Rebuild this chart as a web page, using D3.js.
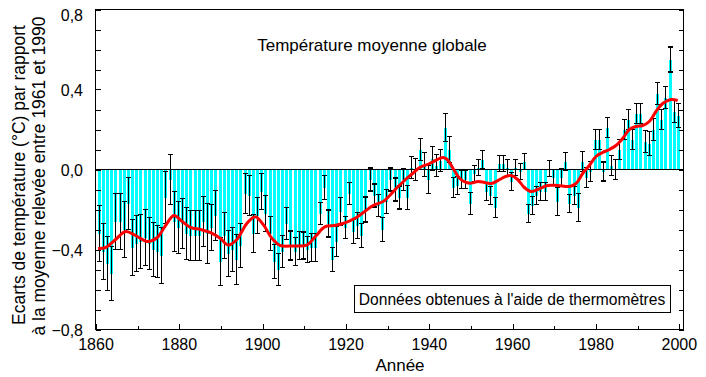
<!DOCTYPE html>
<html>
<head>
<meta charset="utf-8">
<script src="https://cdn.jsdelivr.net/npm/d3@7"></script>
<style>
  body { margin: 0; background: #fff; }
  svg { font-family: "Liberation Sans", Arial, sans-serif; }
</style>
</head>
<body>
<svg id="chart" width="706" height="377"></svg>
<script>
// annual anomalies (°C, vs 1961-1990), 1861..2000
const firstYear = 1861;
const anomalies = [
  -0.32, -0.41, -0.47, -0.52, -0.26, -0.26, -0.30, -0.17, -0.39, -0.37,
  -0.36, -0.34, -0.37, -0.40, -0.41, -0.43, -0.14, -0.05, -0.26, -0.29,
  -0.27, -0.32, -0.33, -0.33, -0.33, -0.26, -0.32, -0.29, -0.23, -0.46,
  -0.33, -0.42, -0.40, -0.45, -0.38, -0.12, -0.13, -0.32, -0.23, -0.11,
  -0.22, -0.32, -0.46, -0.50, -0.41, -0.27, -0.38, -0.41, -0.38, -0.38,
  -0.40, -0.39, -0.39, -0.22, -0.09, -0.27, -0.45, -0.36, -0.21, -0.29,
  -0.12, -0.31, -0.28, -0.33, -0.20, -0.05, -0.13, -0.18, -0.30, -0.16,
  -0.05, -0.10, -0.14, -0.05, -0.14, 0.01, 0.00, 0.10, 0.025, -0.05,
  0.055, 0.02, 0.045, 0.21, 0.10, -0.09, -0.08, -0.05, -0.05, -0.17,
  -0.02, 0.01, 0.05, -0.11, -0.13, -0.19, 0.03, 0.03, 0.01, -0.06,
  0.01, -0.01, 0.04, -0.22, -0.18, -0.13, -0.11, -0.11, 0.005, -0.04,
  -0.16, -0.04, 0.04, -0.17, -0.13, -0.19, 0.04, -0.04, -0.01, 0.15,
  0.15, -0.01, 0.21, 0.02, 0.00, 0.10, 0.20, 0.25, 0.15, 0.28,
  0.28, 0.14, 0.13, 0.20, 0.38, 0.25, 0.36, 0.55, 0.29, 0.27
];
// half-width of the error bars (°C)
const uncertainty = [
  0.14, 0.14, 0.135, 0.135, 0.14, 0.14, 0.14, 0.13, 0.14, 0.14,
  0.135, 0.14, 0.13, 0.135, 0.13, 0.14, 0.13, 0.125, 0.15, 0.13,
  0.125, 0.13, 0.125, 0.125, 0.125, 0.125, 0.15, 0.115, 0.125, 0.12,
  0.115, 0.115, 0.11, 0.125, 0.11, 0.10, 0.10, 0.095, 0.09, 0.09,
  0.09, 0.085, 0.085, 0.08, 0.08, 0.08, 0.072, 0.07, 0.07, 0.068,
  0.065, 0.07, 0.07, 0.056, 0.06, 0.067, 0.06, 0.075, 0.07, 0.055,
  0.055, 0.06, 0.065, 0.06, 0.062, 0.057, 0.057, 0.056, 0.059, 0.06,
  0.057, 0.058, 0.058, 0.056, 0.06, 0.056, 0.056, 0.056, 0.06, 0.07,
  0.06, 0.055, 0.055, 0.07, 0.065, 0.05, 0.045, 0.045, 0.045, 0.055,
  0.04, 0.04, 0.045, 0.045, 0.045, 0.05, 0.04, 0.04, 0.04, 0.045,
  0.04, 0.04, 0.04, 0.045, 0.045, 0.045, 0.045, 0.045, 0.04, 0.04,
  0.07, 0.045, 0.045, 0.045, 0.045, 0.07, 0.05, 0.05, 0.05, 0.05,
  0.05, 0.048, 0.05, 0.05, 0.05, 0.05, 0.05, 0.05, 0.05, 0.05,
  0.05, 0.055, 0.06, 0.055, 0.055, 0.05, 0.055, 0.063, 0.055, 0.06
];
// smoothed curve
const smoothYears = [
  1860.5, 1862.3, 1864.7, 1867.1, 1869.5, 1872.3, 1874.7, 1876.7, 1878.7, 1880.7,
  1882.7, 1885.1, 1887.5, 1889.8, 1891.8, 1893.8, 1896.2, 1898.2, 1900.2, 1902.2,
  1904.2, 1907.4, 1910.6, 1912.6, 1915, 1917, 1919.3, 1922.5, 1924.5, 1926.5,
  1928.9, 1930.5, 1932.1, 1934.3, 1936, 1937.7, 1940.1, 1942.5, 1943.3, 1944.3,
  1945.7, 1947.3, 1948.9, 1950.1, 1951.7, 1953.3, 1954.9, 1956.9, 1958.3, 1959.6,
  1961.2, 1962.8, 1964.4, 1966, 1968.4, 1970.8, 1973.6, 1975.2, 1976.8, 1978.4,
  1980, 1981.6, 1983.2, 1984.8, 1986.4, 1988, 1989.6, 1991.2, 1992.8, 1994.4,
  1996, 1998, 1999.6
];
const smoothValues = [
  -0.395, -0.39, -0.35, -0.31, -0.33, -0.36, -0.34, -0.28, -0.23, -0.26,
  -0.29, -0.30, -0.316, -0.344, -0.378, -0.35, -0.27, -0.236, -0.277, -0.344,
  -0.38, -0.382, -0.378, -0.336, -0.286, -0.28, -0.27, -0.24, -0.21, -0.18,
  -0.16, -0.13, -0.094, -0.05, -0.02, 0.01, 0.03, 0.056, 0.06, 0.05,
  0.005, -0.045, -0.065, -0.068, -0.06, -0.065, -0.07, -0.05, -0.035, -0.03,
  -0.05, -0.09, -0.11, -0.10, -0.08, -0.08, -0.085, -0.07, -0.02, 0.02,
  0.065, 0.085, 0.10, 0.12, 0.155, 0.20, 0.215, 0.22, 0.24, 0.29,
  0.33, 0.35, 0.345
];
const xTickLabels = [1860, 1880, 1900, 1920, 1940, 1960, 1980, 2000];
const yTickLabels = [-0.8, -0.4, 0, 0.4, 0.8];

const svg = d3.select('#chart');
const plotLeft = 95.5, plotRight = 683.5, plotTop = 9.5, plotBottom = 329.5;

const x = d3.scaleLinear().domain([1860, 2001]).range([96, 683.5]);
const y = d3.scaleLinear().domain([-0.8, 0.8]).range([plotBottom, plotTop]);

const data = anomalies.map((v, i) => ({ year: firstYear + i, value: v, err: uncertainty[i] }));
// bars sit a little left of the year tick in the original
const cx = d => Math.round(x(d.year) - 1.5) + 0.5;

// bars
svg.append('g').selectAll('rect')
  .data(data)
  .join('rect')
  .attr('x', d => cx(d) - 1.5)
  .attr('width', 3)
  .attr('y', d => Math.min(y(d.value), y(0)))
  .attr('height', d => Math.abs(y(d.value) - y(0)))
  .attr('fill', '#00ffff')
  .attr('shape-rendering', 'crispEdges');

// error bars
const eb = svg.append('g').attr('stroke', '#000').attr('stroke-width', 1).attr('shape-rendering', 'crispEdges');
eb.selectAll('line.v')
  .data(data)
  .join('line')
  .attr('class', 'v')
  .attr('x1', cx).attr('x2', cx)
  .attr('y1', d => y(d.value + d.err))
  .attr('y2', d => y(d.value - d.err));
eb.selectAll('line.top')
  .data(data)
  .join('line')
  .attr('class', 'top')
  .attr('x1', d => cx(d) - 2.5).attr('x2', d => cx(d) + 2.5)
  .attr('y1', d => y(d.value + d.err)).attr('y2', d => y(d.value + d.err))
  .attr('stroke-width', 1.5);
eb.selectAll('line.bot')
  .data(data)
  .join('line')
  .attr('class', 'bot')
  .attr('x1', d => cx(d) - 2.5).attr('x2', d => cx(d) + 2.5)
  .attr('y1', d => y(d.value - d.err)).attr('y2', d => y(d.value - d.err))
  .attr('stroke-width', 1.5);

// zero line
svg.append('line')
  .attr('x1', plotLeft).attr('x2', plotRight)
  .attr('y1', y(0)).attr('y2', y(0))
  .attr('stroke', '#000').attr('shape-rendering', 'crispEdges');

// smoothed curve
const smooth = smoothYears.map((yr, i) => [yr, smoothValues[i]]);
svg.append('path')
  .datum(smooth)
  .attr('fill', 'none')
  .attr('stroke', '#ff0000')
  .attr('stroke-width', 3)
  .attr('d', d3.line().x(d => x(d[0])).y(d => y(d[1])).curve(d3.curveCatmullRom));

// frame
svg.append('rect')
  .attr('x', plotLeft).attr('y', plotTop)
  .attr('width', plotRight - plotLeft).attr('height', plotBottom - plotTop)
  .attr('fill', 'none').attr('stroke', '#000').attr('shape-rendering', 'crispEdges');

// ticks
const ticks = svg.append('g').attr('stroke', '#000').attr('shape-rendering', 'crispEdges');
d3.range(-8, 9).forEach(k => {
  const yy = Math.round(y(k / 10)) + 0.5;
  ticks.append('line').attr('x1', plotLeft).attr('x2', plotLeft + 5).attr('y1', yy).attr('y2', yy);
  ticks.append('line').attr('x1', plotRight - 5).attr('x2', plotRight).attr('y1', yy).attr('y2', yy);
});
d3.range(1860, 2001, 10).forEach(yr => {
  const xx = Math.round(x(yr)) + 0.5;
  const len = yr % 20 === 0 ? 6 : 3.5;
  ticks.append('line').attr('x1', xx).attr('x2', xx).attr('y1', plotBottom).attr('y2', plotBottom - len);
});

// tick labels
const fmt = v => d3.format('.1f')(v).replace('.', ',').replace('-', '\u2212');
svg.append('g').selectAll('text')
  .data(yTickLabels)
  .join('text')
  .attr('x', 83)
  .attr('y', d => d === 0.8 ? 21 : y(d) + 6)
  .attr('text-anchor', 'end')
  .attr('font-size', 16)
  .text(fmt);

svg.append('g').selectAll('text')
  .data(xTickLabels)
  .join('text')
  .attr('x', d => x(d))
  .attr('y', 350)
  .attr('text-anchor', 'middle')
  .attr('font-size', 16)
  .text(d => d);

// titles
svg.append('text')
  .attr('x', 400).attr('y', 371)
  .attr('text-anchor', 'middle').attr('font-size', 17)
  .text('Année');

svg.append('text')
  .attr('transform', 'translate(25,175) rotate(-90)')
  .attr('text-anchor', 'middle').attr('font-size', 17.5)
  .text('Ecarts de température (°C) par rapport');
svg.append('text')
  .attr('transform', 'translate(45,176) rotate(-90)')
  .attr('text-anchor', 'middle').attr('font-size', 17.5)
  .text('à la moyenne relevée entre 1961 et 1990');

svg.append('text')
  .attr('x', 372).attr('y', 51)
  .attr('text-anchor', 'middle').attr('font-size', 17)
  .text('Température moyenne globale');

// legend box
svg.append('rect')
  .attr('x', 354.5).attr('y', 285.5)
  .attr('width', 316).attr('height', 27)
  .attr('fill', '#fff').attr('stroke', '#000').attr('shape-rendering', 'crispEdges');
svg.append('text')
  .attr('x', 512).attr('y', 305)
  .attr('text-anchor', 'middle').attr('font-size', 15.6)
  .text("Données obtenues à l'aide de thermomètres");
</script>
</body>
</html>
